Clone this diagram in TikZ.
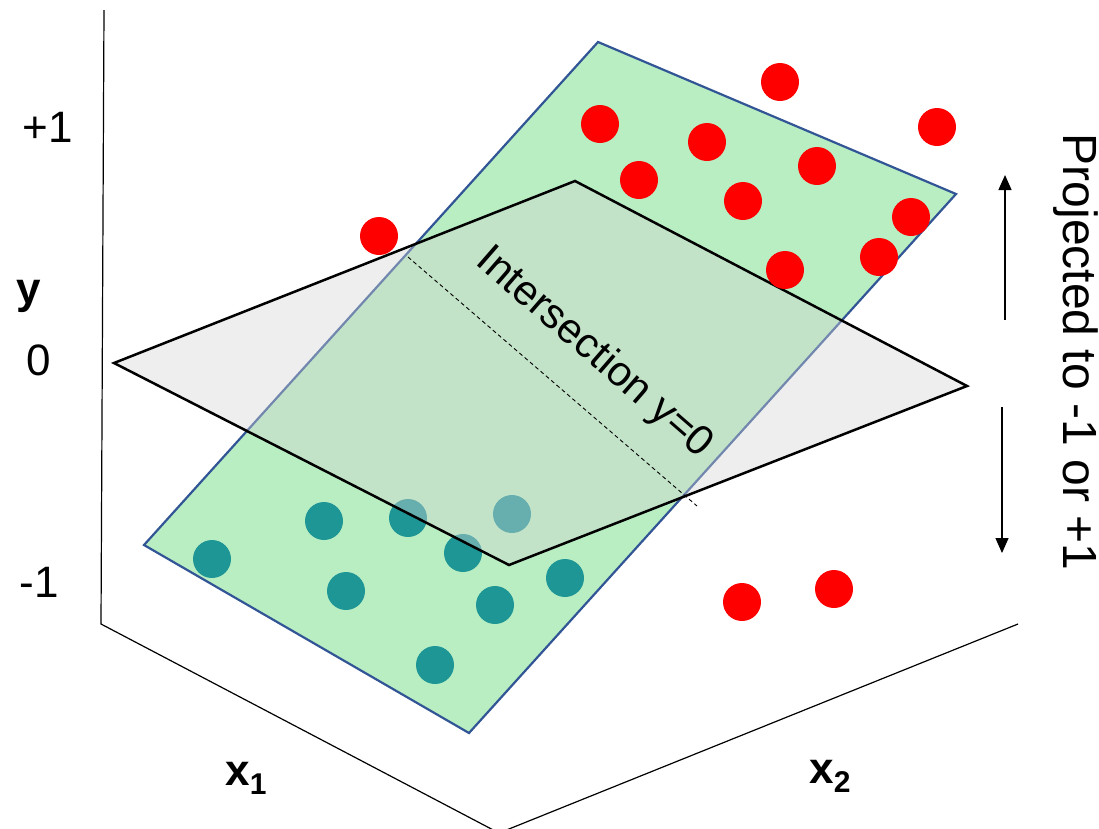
\documentclass[tikz,border=0pt]{standalone}
\usepackage{fontspec}
\setmainfont{Liberation Sans}
\usetikzlibrary{arrows.meta}
\definecolor{pgreen}{RGB}{185,238,195}
\definecolor{pedge}{RGB}{50,85,150}
\definecolor{pteal}{RGB}{31,150,150}
\definecolor{pgrey}{RGB}{212,212,212}

\begin{document}
\begin{tikzpicture}[x=1pt, y=-1pt, line join=miter,
  lbl/.style={inner sep=0pt, font=\fontsize{44}{50}\selectfont},
  dotr/.style={fill=red},
  dott/.style={fill=pteal}]
\def\R{19}
\useasboundingbox (0,0) rectangle (1099,828);
\clip (0,0) rectangle (1099,828);
% ================= axes =================
\coordinate (ytop) at (104,10);
\coordinate (orig) at (101,624);
\coordinate (corner) at (499,833);
\coordinate (x2end) at (1018,624);
\draw[line width=1.2pt] (ytop) -- (orig) -- (corner) -- (x2end);
% ================= separating plane (green) =================
\coordinate (gT) at (598,42);
\coordinate (gR) at (956,194);
\coordinate (gB) at (469,733);
\coordinate (gL) at (144,545);
\draw[line width=2.2pt, draw=pedge, fill=pgreen] (gT) -- (gR) -- (gB) -- (gL) -- cycle;
% class -1 points (under the y=0 plane in part)
\foreach \p in {(212,559),(324,521),(408,518),(512,514),(463,553),
                (346,591),(495,605),(565,578),(435,665)}
  \fill[dott] \p circle (\R);
% ================= y=0 plane (grey, see-through) =================
\coordinate (hL) at (114,363);
\coordinate (hT) at (575,181);
\coordinate (hR) at (967,386);
\coordinate (hB) at (509,565);
\fill[pgrey, fill opacity=0.4] (hL) -- (hT) -- (hR) -- (hB) -- cycle;
\draw[line width=2.5pt] (hL) -- (hT) -- (hR) -- (hB) -- cycle;
% intersection line
\coordinate (iA) at (408,257);
\coordinate (iB) at (697,506);
\draw[line width=0.9pt, dash pattern=on 4pt off 3pt] (iA) -- (iB);
\node[inner sep=0pt, rotate=-41, font=\fontsize{42}{48}\selectfont] (itxt) at (594,353) {Intersection y=0};
% class +1 points
\foreach \p in {(780,82),(600,124),(707,142),(937,127),(639,180),(817,166),
                (743,201),(911,217),(879,257),(785,270),(379,236),(742,602),(834,589)}
  \fill[dotr] \p circle (\R);
% ================= labels =================
\node[lbl] (lp1) at (48,127) {+1};
\node[lbl, font=\fontsize{44}{50}\selectfont\bfseries] (ly) at (29,296) {y};
\node[lbl] (l0) at (39,360) {0};
\node[lbl] (lm1) at (39,582) {-1};
\node[lbl, font=\fontsize{44}{50}\selectfont\bfseries] (lx1) at (246,778)
  {x\raisebox{-9pt}{\fontsize{30}{30}\selectfont 1}};
\node[lbl, font=\fontsize{44}{50}\selectfont\bfseries] (lx2) at (830,776)
  {x\raisebox{-9pt}{\fontsize{30}{30}\selectfont 2}};
% projection arrows
\coordinate (upS) at (1005,320);
\coordinate (upT) at (1005,175);
\coordinate (dnS) at (1002,407);
\coordinate (dnT) at (1002,553);
\draw[line width=1.3pt, -{Triangle[length=15pt, width=13pt]}] (upS) -- (upT);
\draw[line width=1.3pt, -{Triangle[length=15pt, width=13pt]}] (dnS) -- (dnT);
\node[inner sep=0pt, rotate=-90, font=\fontsize{48}{54}\selectfont] (lproj) at (1076,352) {Projected to -1 or +1};
\end{tikzpicture}
\end{document}
